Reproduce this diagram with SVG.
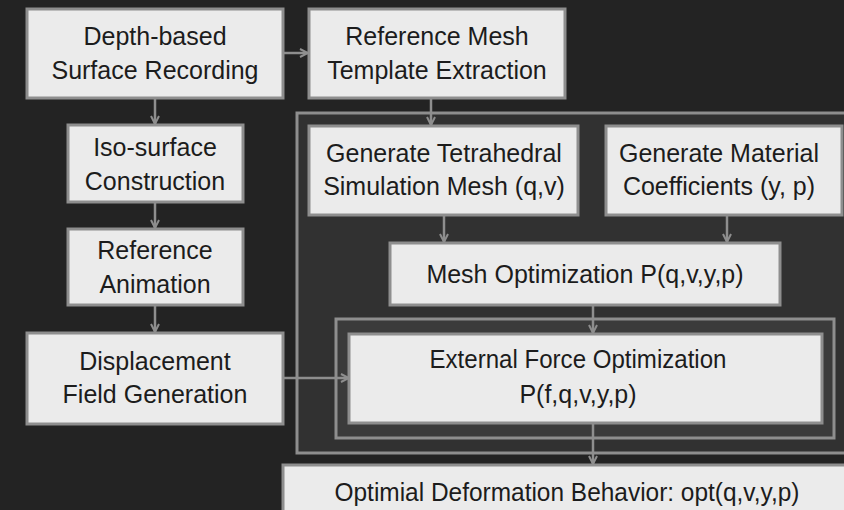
<svg xmlns="http://www.w3.org/2000/svg" width="844" height="510" viewBox="0 0 844 510">
<style>
.box{fill:#ebebeb;stroke:#8e8e8e;stroke-width:3}
.t{font-family:"Liberation Sans",Arial,sans-serif;font-size:25px;fill:#1c1c1c;text-anchor:middle}
.c{fill:none;stroke:#8e8e8e;stroke-width:2.5}
</style>
<defs>
<marker id="ah" viewBox="0 0 10 10" refX="9" refY="5" markerWidth="10" markerHeight="10" markerUnits="userSpaceOnUse" orient="auto">
<path d="M1,1 L9,5 L1,9" fill="none" stroke="#8e8e8e" stroke-width="2"/>
</marker>
</defs>
<rect width="844" height="510" fill="#232323"/>
<g id="panel"><rect x="297" y="113" width="560" height="340" fill="#313131" stroke="#8e8e8e" stroke-width="3"/></g>
<g id="innerframe"><rect x="336" y="319" width="498" height="119" fill="#3b3b3b" stroke="#8e8e8e" stroke-width="3"/></g>
<g id="connectors">
<line class="c" x1="283" y1="53" x2="308" y2="53" marker-end="url(#ah)"/>
<line class="c" x1="155" y1="98" x2="155" y2="124" marker-end="url(#ah)"/>
<line class="c" x1="155" y1="202" x2="155" y2="228" marker-end="url(#ah)"/>
<line class="c" x1="155" y1="305" x2="155" y2="332" marker-end="url(#ah)"/>
<line class="c" x1="431" y1="98" x2="431" y2="125" marker-end="url(#ah)"/>
<line class="c" x1="444" y1="215" x2="444" y2="242" marker-end="url(#ah)"/>
<line class="c" x1="727" y1="215" x2="727" y2="242" marker-end="url(#ah)"/>
<line class="c" x1="593" y1="305" x2="593" y2="333" marker-end="url(#ah)"/>
<line class="c" x1="283" y1="378" x2="349" y2="378" marker-end="url(#ah)"/>
<line class="c" x1="593" y1="423" x2="593" y2="464" marker-end="url(#ah)"/>
</g>
<g id="depth"><rect class="box" x="27" y="9" width="256" height="89"/><text class="t" x="155" y="45">Depth-based</text><text class="t" x="155" y="79">Surface Recording</text></g>
<g id="refmesh"><rect class="box" x="309" y="9" width="256" height="89"/><text class="t" x="437" y="45">Reference Mesh</text><text class="t" x="437" y="79">Template Extraction</text></g>
<g id="iso"><rect class="box" x="68" y="125" width="175" height="77"/><text class="t" x="155" y="156">Iso-surface</text><text class="t" x="155" y="190">Construction</text></g>
<g id="refanim"><rect class="box" x="68" y="229" width="175" height="76"/><text class="t" x="155" y="259">Reference</text><text class="t" x="155" y="293">Animation</text></g>
<g id="displacement"><rect class="box" x="27" y="333" width="256" height="91"/><text class="t" x="155" y="370">Displacement</text><text class="t" x="155" y="403">Field Generation</text></g>
<g id="tetra"><rect class="box" x="309" y="126" width="269" height="89"/><text class="t" x="444" y="162">Generate Tetrahedral</text><text class="t" x="444" y="195">Simulation Mesh (q,v)</text></g>
<g id="material"><rect class="box" x="606" y="126" width="236" height="89"/><text class="t" x="719" y="162">Generate Material</text><text class="t" x="719" y="195">Coefficients (y, p)</text></g>
<g id="meshopt"><rect class="box" x="390" y="243" width="390" height="62"/><text class="t" x="585" y="283">Mesh Optimization P(q,v,y,p)</text></g>
<g id="extforce"><rect class="box" x="349" y="334" width="473" height="89"/><text class="t" x="578" y="368" textLength="297" lengthAdjust="spacingAndGlyphs">External Force Optimization</text><text class="t" x="578" y="403">P(f,q,v,y,p)</text></g>
<g id="optimal"><rect class="box" x="283" y="465" width="570" height="60"/><text class="t" x="567" y="501" textLength="465" lengthAdjust="spacingAndGlyphs">Optimial Deformation Behavior: opt(q,v,y,p)</text></g>
</svg>
